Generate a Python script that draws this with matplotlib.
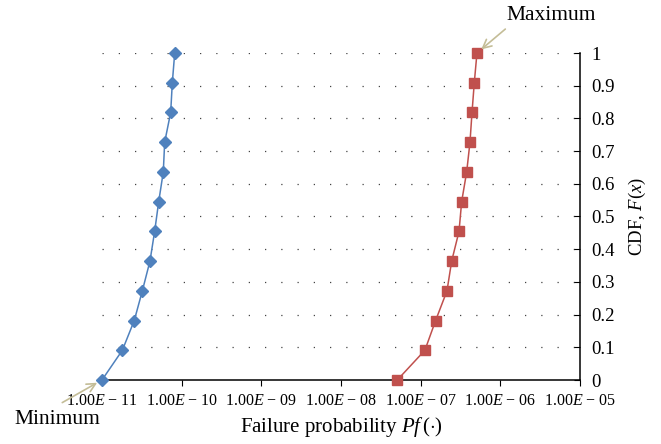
import matplotlib
matplotlib.use("Agg")
import matplotlib.pyplot as plt
import numpy as np

plt.rcParams['font.family'] = ['Liberation Serif', 'DejaVu Serif']
plt.rcParams['mathtext.fontset'] = 'custom'
plt.rcParams['mathtext.rm'] = 'Liberation Serif'
plt.rcParams['mathtext.it'] = 'Liberation Serif:italic'

# CDF levels (12 samples)
cdf = [i / 11 for i in range(12)]
pf_low = [1.00e-11, 1.80e-11, 2.54e-11, 3.21e-11, 4.00e-11, 4.58e-11,
          5.15e-11, 5.88e-11, 6.12e-11, 7.28e-11, 7.63e-11, 8.18e-11]
pf_high = [5.09e-8, 1.13e-7, 1.54e-7, 2.14e-7, 2.45e-7, 3.03e-7,
           3.27e-7, 3.78e-7, 4.16e-7, 4.41e-7, 4.71e-7, 5.09e-7]
xticks = [1e-11, 1e-10, 1e-9, 1e-8, 1e-7, 1e-6, 1e-5]
xlabels = ["1.00$E$ − 11", "1.00$E$ − 10", "1.00$E$ − 09", "1.00$E$ − 08",
           "1.00$E$ − 07", "1.00$E$ − 06", "1.00$E$ − 05"]
yticks = [0, 0.1, 0.2, 0.3, 0.4, 0.5, 0.6, 0.7, 0.8, 0.9, 1]
ylabels = ["0", "0.1", "0.2", "0.3", "0.4", "0.5", "0.6", "0.7", "0.8", "0.9", "1"]

fig = plt.figure(figsize=(6.61, 4.44), dpi=100)
ax = fig.add_axes([102/661, 1 - 380/444, 478/661, 327/444])

# dotted horizontal guides
for y in yticks[1:]:
    ax.axhline(y, color='#444444', lw=0.9, ls=(0, (1, 12)), zorder=0)

ax.plot(pf_low, cdf, '-', color='#4F81BD', lw=1.1, marker='D', ms=6.5,
        clip_on=False, zorder=3)
ax.plot(pf_high, cdf, '-', color='#C0504D', lw=1.1, marker='s', ms=7.5,
        clip_on=False, zorder=3)

ax.set_xscale('log')
ax.set_xlim(1e-11, 1e-5)
ax.set_ylim(0, 1)
ax.set_xticks(xticks)
ax.set_xticklabels(xlabels)
ax.minorticks_off()
ax.set_yticks(yticks)
ax.set_yticklabels(ylabels)

ax.spines['left'].set_visible(False)
ax.spines['top'].set_visible(False)
ax.spines['bottom'].set_linewidth(1.1)
ax.spines['right'].set_linewidth(1.1)
ax.yaxis.tick_right()
ax.yaxis.set_label_position('right')
ax.tick_params(axis='x', direction='out', length=4, labelsize=11.5, pad=5)
ax.tick_params(axis='y', direction='in', length=4, labelsize=13.5, pad=8)

ax.set_xlabel("Failure probability $Pf\\,(\\cdot)$", fontsize=15, labelpad=5)
ax.set_ylabel("CDF, $F(x)$", fontsize=13.5, labelpad=9)

ax.annotate("Maximum", xy=(pf_high[-1], 1), xytext=(551, 429),
            textcoords='figure pixels', ha='center', va='center',
            fontsize=15.5, arrowprops=dict(arrowstyle='->', color='#C4BD97', lw=1.2,
                                           relpos=(0.05, 0.0), shrinkB=4))
ax.annotate("Minimum", xy=(pf_low[0], 0), xytext=(57, 25),
            textcoords='figure pixels', ha='center', va='center',
            fontsize=15.5, arrowprops=dict(arrowstyle='->', color='#C4BD97', lw=1.2,
                                           relpos=(0.42, 1.0), shrinkA=6, shrinkB=4))

plt.savefig("out.png", dpi=100)
